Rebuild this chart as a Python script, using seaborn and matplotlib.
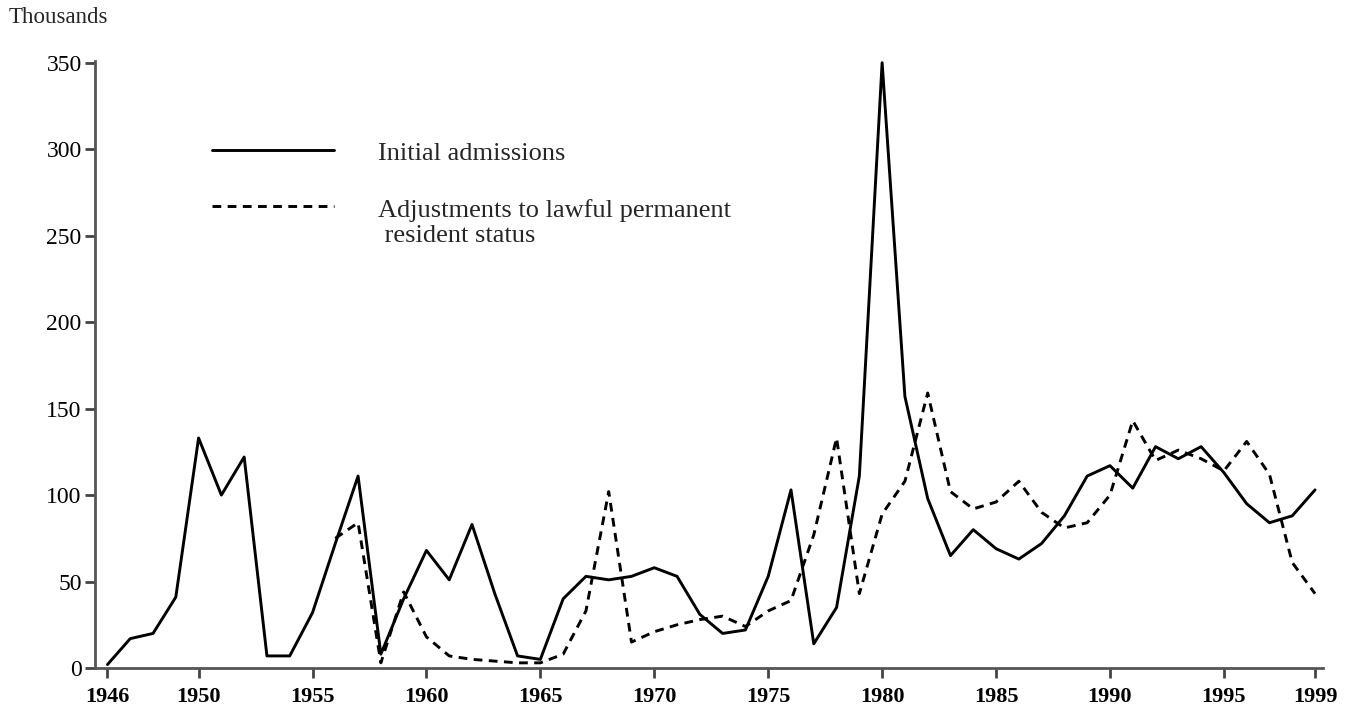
import numpy as np
import pandas as pd
import seaborn as sns
from matplotlib import pyplot as plt

# ---------- DATA ----------
years = list(range(1946, 2000))
initial_admissions = [2, 17, 20, 41, 133, 100, 122, 7, 7, 32,
                      72, 111, 8, 40, 68, 51, 83, 43, 7, 5,
                      40, 53, 51, 53, 58, 53, 31, 20, 22, 53,
                      103, 14, 35, 111, 350, 157, 98, 65, 80, 69,
                      63, 72, 88, 111, 117, 104, 128, 121, 128, 113,
                      95, 84, 88, 103]

adj_years = list(range(1956, 2000))
adjustments = [75, 84, 3, 44, 18, 7, 5, 4, 3, 3,
               8, 33, 102, 15, 21, 25, 28, 30, 24, 33,
               39, 77, 133, 43, 89, 108, 159, 102, 92, 96,
               108, 90, 81, 84, 100, 143, 120, 126, 121, 114,
               131, 112, 61, 43]

x_ticks = [1946, 1950, 1955, 1960, 1965, 1970, 1975, 1980, 1985, 1990, 1995, 1999]
y_ticks = [0, 50, 100, 150, 200, 250, 300, 350]

init_df = pd.DataFrame({'year': years, 'value': initial_admissions})
adj_df = pd.DataFrame({'year': adj_years, 'value': adjustments})

# ---------- PLOT ----------
sns.set_style('ticks')
plt.rcParams['font.family'] = ['Liberation Serif', 'DejaVu Serif']

fig = plt.figure(figsize=(13.56, 7.17), dpi=100)
ax = fig.add_axes([0.0700, 0.0683, 0.9055, 0.8467])

sns.lineplot(data=init_df, x='year', y='value', color='black', linewidth=2.1,
             ax=ax, label='Initial admissions')
sns.lineplot(data=adj_df, x='year', y='value', color='black', linewidth=2.1,
             linestyle=(0, (3, 2.2)), ax=ax,
             label='Adjustments to lawful permanent\n resident status')

ax.set_xlim(1945.45, 1999.34)
ax.set_ylim(0, 351)
ax.set_xticks(x_ticks)
ax.set_xticklabels([str(t) for t in x_ticks], fontweight='bold', fontsize=16)
ax.set_yticks(y_ticks)
ax.set_yticklabels([str(t) for t in y_ticks], fontsize=17)
ax.set_xlabel('')
ax.set_ylabel('')

for side in ['top', 'right']:
    ax.spines[side].set_visible(False)
for side in ['left', 'bottom']:
    ax.spines[side].set_color('#555555')
    ax.spines[side].set_linewidth(2)
ax.tick_params(axis='both', direction='out', length=7.5, width=2, color='#444444',
               labelcolor='black')
ax.tick_params(axis='x', pad=6)
ax.tick_params(axis='y', pad=2)

leg = ax.legend(loc='upper left', bbox_to_anchor=(0.0955, 0.868), frameon=False,
                fontsize=19, handlelength=4.6, handletextpad=1.67, labelspacing=1.3,
                borderpad=0, borderaxespad=0)
# put the dashed sample next to the first line of its two-line label
dash_line = leg.get_lines()[1]
dash_line.set_ydata(np.asarray(dash_line.get_ydata()) + 11.4)

fig.text(0.006, 0.975, 'Thousands', fontsize=16.5, ha='left', va='center')

fig.savefig('out.png', dpi=100)
